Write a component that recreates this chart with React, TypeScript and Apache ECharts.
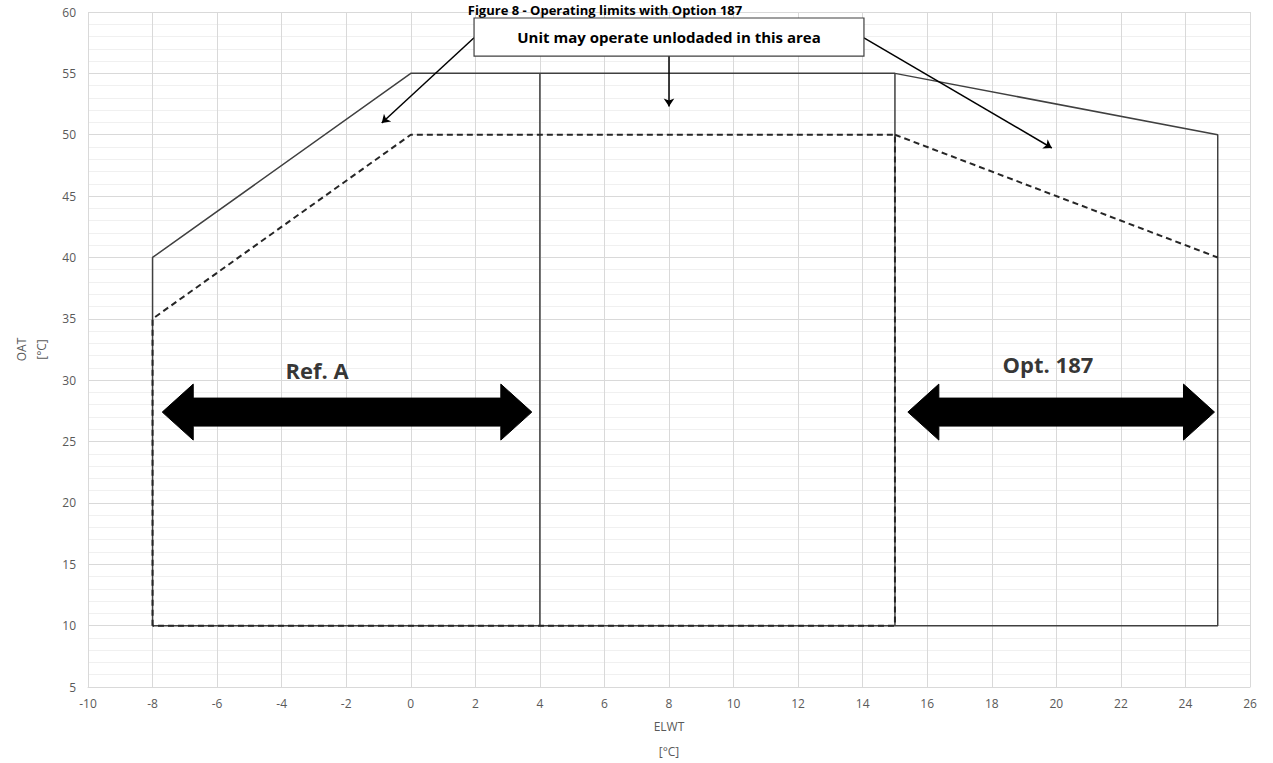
import React, { useEffect, useRef } from "react";
import * as echarts from "echarts";

// Envelope outlines (ELWT °C, OAT °C)
const outerX = [-8, -8, 0, 15, 25, 25, -8];
const outerY = [10, 40, 55, 55, 50, 10, 10];
const divider4X = [4, 4];
const divider4Y = [10, 55];
const divider15X = [15, 15];
const divider15Y = [10, 55];
const innerX = [-8, -8, 0, 15, 15, -8];
const innerY = [10, 35, 50, 50, 10, 10];
const innerExtX = [15, 25];
const innerExtY = [50, 40];

// Double-headed range arrows: [xStart, xEnd, y]
const rangeArrows = [
  [-7.7, 3.75, 27.4],
  [15.4, 24.9, 27.4],
];
const rangeLabels = ["Ref. A", "Opt. 187"];
const rangeLabelX = [-2.9, 19.74];
const rangeLabelY = [30.8, 31.3];

// Annotation box [x0, x1, yBottom, yTop]
const noteBox = [1.96, 14.04, 56.41, 59.51];
const noteText = "Unit may operate unlodaded in this area";
// Callout arrows [[x0,y0],[x1,y1]]
const callouts = [
  [[1.96, 57.9], [-0.9, 50.95]],
  [[8, 56.41], [8, 52.3]],
  [[14.04, 57.9], [19.86, 48.92]],
];

const xTicks = { min: -10, max: 26, interval: 2 };
const yTicks = { min: 5, max: 60, interval: 5 };
const titleText = "Figure 8 - Operating limits with Option 187";

const FONT = "'Open Sans', 'Liberation Sans', sans-serif";

function zip(xs: number[], ys: number[]) {
  return xs.map((x, i) => [x, ys[i]]);
}

export default function App() {
  const ref = useRef<HTMLDivElement>(null);
  useEffect(() => {
    if (!ref.current) return;
    const chart = echarts.init(ref.current, null, { renderer: "svg" });
    const solid = { color: "#404040", width: 1.5, type: "solid" as const };
    const dashed = { color: "#262626", width: 2, type: [6, 4] as any };
    const lineBase = {
      type: "line" as const,
      symbol: "none",
      silent: true,
      z: 3,
    };
    chart.setOption({
      animation: false,
      title: {
        text: titleText,
        left: 605,
        top: 2,
        padding: 0,
        textAlign: "center",
        textStyle: { fontFamily: FONT, fontSize: 13, fontWeight: "bold", color: "#000", lineHeight: 15 },
      },
      grid: { left: 88, right: 23, top: 12, bottom: 76, containLabel: false, outerBoundsMode: "none" },
      xAxis: {
        type: "value",
        min: xTicks.min,
        max: xTicks.max,
        interval: xTicks.interval,
        name: "ELWT\n[°C]",
        nameLocation: "middle",
        nameGap: 26,
        nameTextStyle: { color: "#595959", fontFamily: FONT, fontSize: 12, lineHeight: 25 },
        axisLine: { show: true, lineStyle: { color: "#d9d9d9" } },
        axisTick: { show: false },
        axisLabel: { color: "#595959", fontFamily: FONT, fontSize: 12, margin: 10 },
        splitLine: { show: true, lineStyle: { color: "#d9d9d9", width: 1 } },
      },
      yAxis: {
        type: "value",
        min: yTicks.min,
        max: yTicks.max,
        interval: yTicks.interval,
        name: "OAT\n[°C]",
        nameLocation: "middle",
        nameRotate: 90,
        nameGap: 37,
        nameTextStyle: { color: "#595959", fontFamily: FONT, fontSize: 12, lineHeight: 20 },
        axisLine: { show: true, lineStyle: { color: "#d9d9d9" } },
        axisTick: { show: false },
        axisLabel: { color: "#595959", fontFamily: FONT, fontSize: 12, margin: 12 },
        splitLine: { show: true, lineStyle: { color: "#d9d9d9", width: 1 } },
        minorTick: { show: false, splitNumber: 5 },
        minorSplitLine: { show: true, lineStyle: { color: "#f0f0f0", width: 1 } },
      },
      series: [
        { ...lineBase, name: "outer", data: zip(outerX, outerY), lineStyle: solid },
        { ...lineBase, name: "div4", data: zip(divider4X, divider4Y), lineStyle: solid },
        { ...lineBase, name: "div15", data: zip(divider15X, divider15Y), lineStyle: solid },
        { ...lineBase, name: "inner", data: zip(innerX, innerY), lineStyle: dashed, z: 4 },
        { ...lineBase, name: "innerExt", data: zip(innerExtX, innerExtY), lineStyle: dashed, z: 4 },
        {
          type: "custom",
          name: "ranges",
          silent: true,
          z: 5,
          data: rangeArrows,
          renderItem: (params: any, api: any) => {
            const l = api.coord([api.value(0), api.value(2)]);
            const r = api.coord([api.value(1), api.value(2)]);
            const y = l[1];
            const sh = 14, hh = 28, hl = 31;
            return {
              type: "polygon",
              shape: {
                points: [
                  [l[0], y],
                  [l[0] + hl, y - hh],
                  [l[0] + hl, y - sh],
                  [r[0] - hl, y - sh],
                  [r[0] - hl, y - hh],
                  [r[0], y],
                  [r[0] - hl, y + hh],
                  [r[0] - hl, y + sh],
                  [l[0] + hl, y + sh],
                  [l[0] + hl, y + hh],
                ],
              },
              style: { fill: "#000", stroke: "#000", lineWidth: 1 },
            };
          },
        },
        {
          type: "scatter",
          name: "rangeLabels",
          silent: true,
          z: 6,
          symbolSize: 0,
          data: rangeLabels.map((t, i) => ({ name: t, value: [rangeLabelX[i], rangeLabelY[i]] })),
          label: {
            show: true,
            position: "inside",
            formatter: (p: any) => p.name,
            fontFamily: FONT,
            fontSize: 22,
            fontWeight: "bold",
            color: "#000",
          },
        },
        {
          type: "custom",
          name: "note",
          silent: true,
          z: 7,
          data: [noteBox],
          renderItem: (params: any, api: any) => {
            const p0 = api.coord([api.value(0), api.value(3)]);
            const p1 = api.coord([api.value(1), api.value(2)]);
            return {
              type: "group",
              children: [
                {
                  type: "rect",
                  shape: { x: p0[0], y: p0[1], width: p1[0] - p0[0], height: p1[1] - p0[1] },
                  style: { fill: "#fff", stroke: "#404040", lineWidth: 1.2 },
                },
                {
                  type: "text",
                  x: (p0[0] + p1[0]) / 2,
                  y: (p0[1] + p1[1]) / 2,
                  style: {
                    text: noteText,
                    fill: "#000",
                    font: `bold 15px ${FONT}`,
                    align: "center",
                    verticalAlign: "middle",
                  },
                },
              ],
            };
          },
        },
        {
          type: "lines",
          name: "callouts",
          coordinateSystem: "cartesian2d",
          silent: true,
          z: 6,
          symbol: ["none", "arrow"],
          symbolSize: 8,
          lineStyle: { color: "#000", width: 1.5, opacity: 1 },
          data: callouts.map((c) => ({ coords: c })),
        },
      ],
    });
    return () => chart.dispose();
  }, []);
  return (
    <div
      ref={ref}
      style={{ position: "fixed", left: 0, top: 0, width: 1273, height: 763, background: "#fff" }}
    />
  );
}
